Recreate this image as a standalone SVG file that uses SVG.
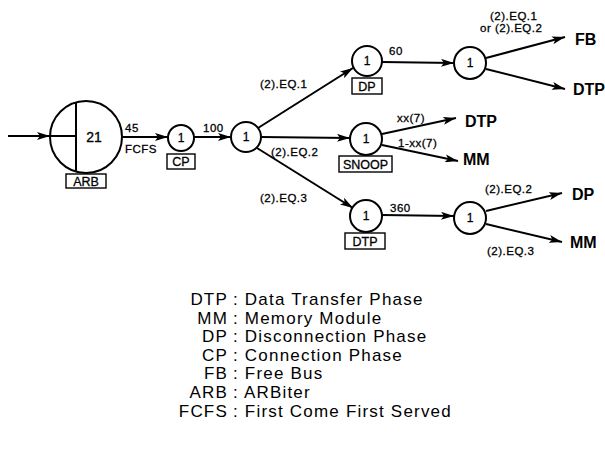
<svg xmlns="http://www.w3.org/2000/svg" width="605" height="466" viewBox="0 0 605 466">
<style>
.n{fill:#fff;stroke:#000;stroke-width:2}
.b{fill:#fff;stroke:#000;stroke-width:1.4}
.c{fill:none;stroke:#000;stroke-width:2;marker-end:url(#ah)}
text{font-family:"Liberation Sans",Arial,sans-serif;fill:#000}
.one{font-size:12px;text-anchor:middle;stroke:#000;stroke-width:0.3}
.bx{font-size:12.5px;text-anchor:middle;stroke:#000;stroke-width:0.3}
.lb{font-size:11.5px;letter-spacing:0.5px;stroke:#000;stroke-width:0.3}
.dst{font-size:16px;font-weight:bold}
.lg{font-size:17px;letter-spacing:1.2px}
.lgl{font-size:17px;letter-spacing:1.2px;text-anchor:end}
</style>
<defs>
<marker id="ah" markerUnits="userSpaceOnUse" markerWidth="14" markerHeight="8" refX="13" refY="4" orient="auto">
<path d="M0,0 L13,4 L0,8 L3,4 z" fill="#000"/>
</marker>
</defs>
<g id="connectors">
<line class="c" x1="8" y1="136" x2="50" y2="136"/>
<line class="c" x1="123" y1="137" x2="168" y2="137"/>
<line class="c" x1="194" y1="137" x2="231" y2="137"/>
<line class="c" x1="258" y1="128" x2="353" y2="68"/>
<line class="c" x1="261" y1="137" x2="350" y2="138"/>
<line class="c" x1="257" y1="148" x2="353" y2="208"/>
<line class="c" x1="382" y1="62" x2="454" y2="63"/>
<line class="c" x1="486" y1="58" x2="565" y2="37"/>
<line class="c" x1="486" y1="69" x2="565" y2="89"/>
<line class="c" x1="382" y1="134" x2="456" y2="118"/>
<line class="c" x1="382" y1="145" x2="458" y2="161"/>
<line class="c" x1="382" y1="215" x2="454" y2="216"/>
<line class="c" x1="486" y1="211" x2="562" y2="193"/>
<line class="c" x1="486" y1="224" x2="562" y2="242"/>
<text class="lb" x="125" y="132">45</text>
<text class="lb" x="125" y="153">FCFS</text>
<text class="lb" x="203" y="132">100</text>
<text class="lb" x="260" y="88">(2).EQ.1</text>
<text class="lb" x="271" y="156">(2).EQ.2</text>
<text class="lb" x="260" y="202">(2).EQ.3</text>
<text class="lb" x="389" y="55">60</text>
<text class="lb" x="490" y="20">(2).EQ.1</text>
<text class="lb" x="480" y="32">or (2).EQ.2</text>
<text class="lb" x="397" y="122">xx(7)</text>
<text class="lb" x="398" y="147">1-xx(7)</text>
<text class="lb" x="390" y="212">360</text>
<text class="lb" x="485" y="193">(2).EQ.2</text>
<text class="lb" x="487" y="255">(2).EQ.3</text>
</g>
<g id="arb">
<circle class="n" cx="86" cy="137" r="36"/>
<line x1="76" y1="102.5" x2="76" y2="171.5" stroke="#000" stroke-width="2"/>
<line x1="50" y1="136" x2="76" y2="136" stroke="#000" stroke-width="2"/>
<text x="94" y="142" font-size="14px" text-anchor="middle" stroke="#000" stroke-width="0.3">21</text>
<rect class="b" x="66" y="174" width="40" height="14"/>
<text class="bx" x="86" y="186">ARB</text>
</g>
<g id="cp">
<circle class="n" cx="181" cy="138" r="13"/>
<text class="one" x="181" y="142">1</text>
<rect class="b" x="167" y="154" width="28" height="15"/>
<text class="bx" x="181" y="166">CP</text>
</g>
<g id="junction">
<circle class="n" cx="246" cy="137" r="15"/>
<text class="one" x="246" y="141">1</text>
</g>
<g id="dp">
<circle class="n" cx="367" cy="61" r="15"/>
<text class="one" x="367" y="65">1</text>
<rect class="b" x="352" y="78" width="30" height="16"/>
<text class="bx" x="367" y="91">DP</text>
</g>
<g id="dp-split">
<circle class="n" cx="470" cy="63" r="16"/>
<text class="one" x="470" y="67">1</text>
</g>
<g id="snoop">
<circle class="n" cx="366" cy="139" r="16"/>
<text class="one" x="366" y="143">1</text>
<rect class="b" x="339" y="156" width="53" height="16"/>
<text class="bx" x="365.5" y="169">SNOOP</text>
</g>
<g id="dtp">
<circle class="n" cx="366" cy="216" r="16"/>
<text class="one" x="366" y="220">1</text>
<rect class="b" x="345" y="233" width="40" height="16"/>
<text class="bx" x="365" y="246">DTP</text>
</g>
<g id="dtp-split">
<circle class="n" cx="470" cy="218" r="16"/>
<text class="one" x="470" y="222">1</text>
</g>
<g id="out-fb"><text class="dst" x="575" y="45">FB</text></g>
<g id="out-dtp1"><text class="dst" x="573" y="95">DTP</text></g>
<g id="out-dtp2"><text class="dst" x="465" y="127">DTP</text></g>
<g id="out-mm1"><text class="dst" x="463" y="165">MM</text></g>
<g id="out-dp"><text class="dst" x="572" y="200">DP</text></g>
<g id="out-mm2"><text class="dst" x="570" y="248">MM</text></g>
<g id="legend">
<text class="lgl" x="228" y="305">DTP</text><text class="lg" x="233" y="305">: Data Transfer Phase</text>
<text class="lgl" x="228" y="323.6">MM</text><text class="lg" x="233" y="323.6">: Memory Module</text>
<text class="lgl" x="228" y="342.2">DP</text><text class="lg" x="233" y="342.2">: Disconnection Phase</text>
<text class="lgl" x="228" y="360.8">CP</text><text class="lg" x="233" y="360.8">: Connection Phase</text>
<text class="lgl" x="228" y="379.4">FB</text><text class="lg" x="233" y="379.4">: Free Bus</text>
<text class="lgl" x="228" y="398">ARB</text><text class="lg" x="233" y="398">: ARBiter</text>
<text class="lgl" x="228" y="416.6">FCFS</text><text class="lg" x="233" y="416.6">: First Come First Served</text>
</g>
</svg>
